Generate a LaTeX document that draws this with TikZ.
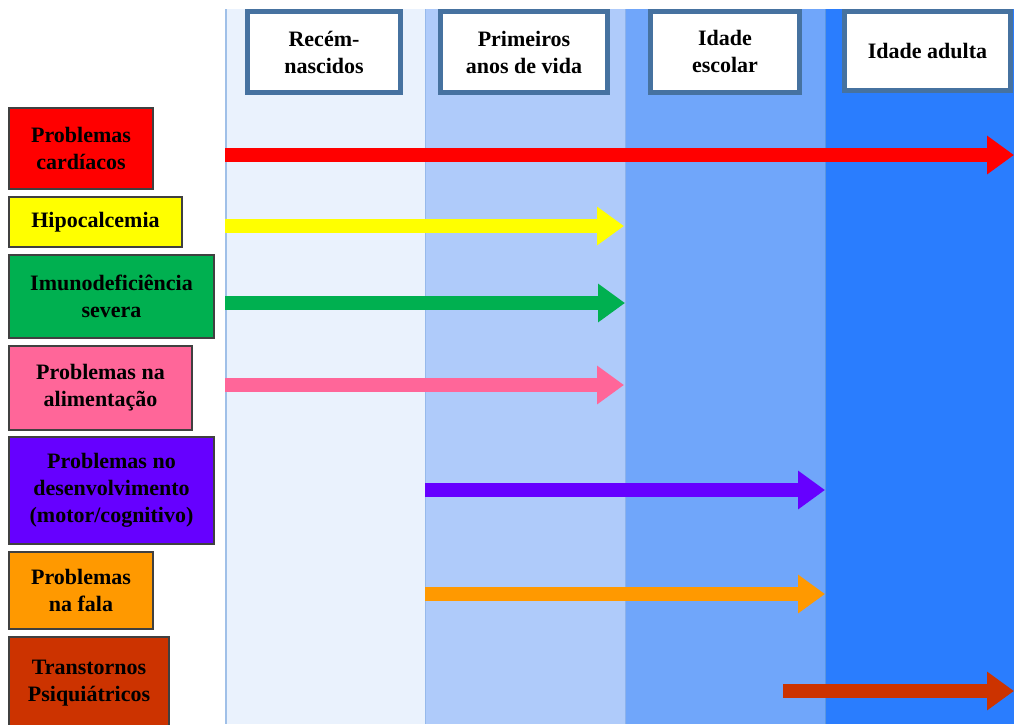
\documentclass[tikz,border=0pt]{standalone}
\usepackage{fontspec}
\setmainfont{Liberation Serif}
\usetikzlibrary{arrows.meta}
\definecolor{colA}{RGB}{234,242,253}
\definecolor{colB}{RGB}{175,203,250}
\definecolor{colC}{RGB}{112,166,250}
\definecolor{colD}{RGB}{42,125,254}
\definecolor{hdrborder}{RGB}{70,114,160}
\definecolor{cRed}{RGB}{255,0,0}
\definecolor{cYellow}{RGB}{255,255,0}
\definecolor{cGreen}{RGB}{0,176,80}
\definecolor{cPink}{RGB}{255,102,153}
\definecolor{cPurple}{RGB}{102,0,255}
\definecolor{cOrange}{RGB}{255,153,0}
\definecolor{cBrown}{RGB}{204,51,0}
\tikzset{
  hdr/.style={draw=hdrborder, line width=5pt, fill=white, align=center, inner sep=0pt,
    font=\fontsize{22}{27}\selectfont\bfseries},
  lbox/.style={draw=black!75, line width=1.2pt, align=center, inner sep=0pt,
    font=\fontsize{22}{27}\selectfont\bfseries},
  bar/.style={line width=13.5pt, -{Triangle[length=27pt,width=37pt]}}
}
\begin{document}
\begin{tikzpicture}[x=1pt,y=-1pt]
\useasboundingbox (0,0) rectangle (1014,724);
\fill[white] (0,0) rectangle (1014,724);
% columns
\fill[colA] (225,9) rectangle (425,724);
\fill[colB] (425,9) rectangle (625,724);
\fill[colC] (625,9) rectangle (825,724);
\fill[colD] (825,9) rectangle (1014,724);
\draw[line width=1.5pt, color={rgb,255:red,160;green,192;blue,232}] (225.75,9) -- (225.75,724);
\draw[line width=1pt, color={rgb,255:red,150;green,185;blue,235}] (425,9) -- (425,724);
\draw[line width=1pt, color={rgb,255:red,140;green,178;blue,235}] (625,9) -- (625,724);
\draw[line width=1pt, color={rgb,255:red,90;green,150;blue,225}] (825,9) -- (825,724);
% headers
\node[hdr, minimum width=153pt, minimum height=81pt] (h1) at (324,52) {Recém-\\nascidos};
\node[hdr, minimum width=167pt, minimum height=81pt] (h2) at (524,52) {Primeiros\\anos de vida};
\node[hdr, minimum width=149pt, minimum height=81pt] (h3) at (725,51.5) {Idade\\escolar};
\node[hdr, minimum width=166pt, minimum height=79pt] (h4) at (927.5,51) {Idade adulta};
% left boxes
\node[lbox, fill=cRed, minimum width=144pt, minimum height=81pt] (b1) at (81,148.5) {Problemas\\cardíacos};
\node[lbox, fill=cYellow, minimum width=173pt, minimum height=50pt] (b2) at (95.5,222) {Hipocalcemia};
\node[lbox, fill=cGreen, minimum width=205pt, minimum height=83pt] (b3) at (111.5,296.5) {Imunodeficiência\\severa};
\node[lbox, fill=cPink, minimum width=183pt, minimum height=84pt] (b4) at (100.5,388) {Problemas na\\alimentação};
\node[lbox, fill=cPurple, minimum width=205pt, minimum height=107pt] (b5) at (111.5,490.5) {Problemas no\\desenvolvimento\\(motor/cognitivo)};
\node[lbox, fill=cOrange, minimum width=144pt, minimum height=77pt] (b6) at (81,590.5) {Problemas\\na fala};
\node[lbox, fill=cBrown, minimum width=160pt, minimum height=92pt] (b7) at (89,683) {Transtornos\\Psiquiátricos};
% arrow end points
\coordinate (r0) at (225,155);   \coordinate (r1) at (1014,155);
\coordinate (y0) at (225,226);   \coordinate (y1) at (624,226);
\coordinate (g0) at (225,303);   \coordinate (g1) at (625,303);
\coordinate (p0) at (225,385);   \coordinate (p1) at (624,385);
\coordinate (v0) at (425,490);   \coordinate (v1) at (825,490);
\coordinate (o0) at (425,594);   \coordinate (o1) at (825,594);
\coordinate (t0) at (783,691);   \coordinate (t1) at (1014,691);
% arrows
\draw[bar, cRed] (r0) -- (r1);
\draw[bar, cYellow] (y0) -- (y1);
\draw[bar, cGreen] (g0) -- (g1);
\draw[bar, cPink] (p0) -- (p1);
\draw[bar, cPurple] (v0) -- (v1);
\draw[bar, cOrange] (o0) -- (o1);
\draw[bar, cBrown] (t0) -- (t1);
\end{tikzpicture}
\end{document}
